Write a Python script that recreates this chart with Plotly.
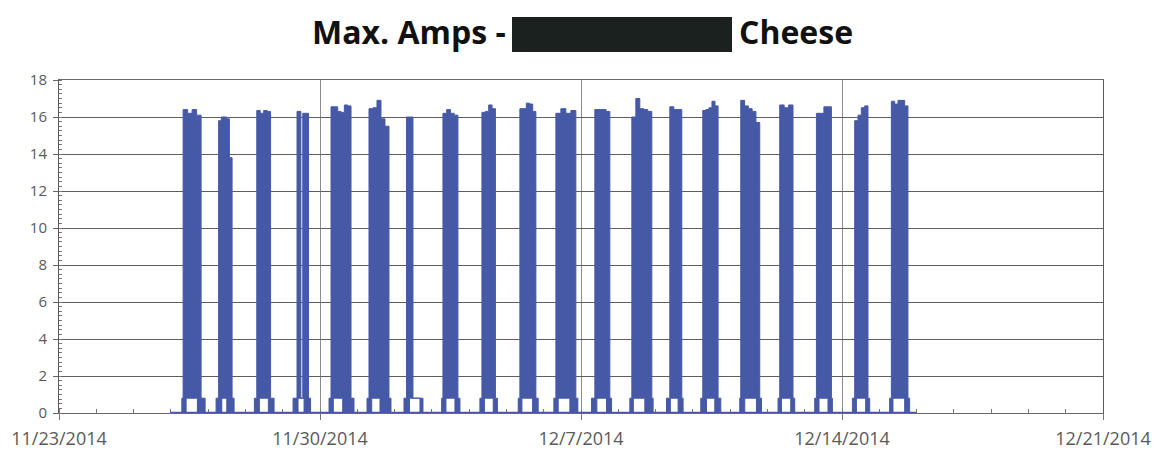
import pandas as pd
import plotly.graph_objects as go

# ---- data ----
run_days = ["2014-11-26", "2014-11-27", "2014-11-28", "2014-11-29", "2014-11-30",
            "2014-12-01", "2014-12-02", "2014-12-03", "2014-12-04", "2014-12-05",
            "2014-12-06", "2014-12-07", "2014-12-08", "2014-12-09", "2014-12-10",
            "2014-12-11", "2014-12-12", "2014-12-13", "2014-12-14", "2014-12-15"]
rise_time   = ["07:04", "05:07", "05:45", "06:39", "05:49", "06:15", "06:03", "06:18", "06:56", "07:35",
               "06:32", "06:47", "07:26", "07:02", "05:06", "06:11", "06:50", "06:26", "06:41", "06:41"]
run_start   = ["07:53", "06:44", "07:18", "09:13", "07:06", "07:32", "07:40", "07:08", "08:14", "08:40",
               "07:50", "08:55", "08:43", "09:10", "06:23", "06:50", "07:55", "07:32", "08:10", "07:46"]
notch_start = ["09:49", "08:47", "08:58", "09:52", "08:34", "09:17", "09:35", "09:04", "09:50", "09:58",
               "09:19", "10:12", "09:41", "09:29", "08:46", "09:24", "09:01", "09:12", "09:16", "08:48"]
notch_end   = ["17:05", "12:00", "14:46", "13:44", "14:37", "14:37", "16:21", "14:52", "15:30", "16:50",
               "16:50", "16:26", "17:05", "14:30", "14:07", "16:56", "15:00", "14:59", "15:14", "16:20"]
run_end     = ["19:28", "15:25", "16:11", "16:37", "19:58", "20:24", "11:51", "16:47", "16:55", "18:58",
               "20:41", "18:34", "21:35", "16:53", "16:14", "19:03", "16:28", "17:11", "16:43", "18:27"]
fall_time   = ["22:03", "16:42", "18:26", "17:55", "21:53", "21:41", "18:17", "18:05", "18:12", "20:26",
               "21:59", "19:40", "22:25", "17:43", "17:58", "20:09", "17:34", "17:49", "17:49", "19:32"]
peak_amps = [
    [16.4, 16.2, 16.4, 16.1],
    [15.8, 16.0, 16.0, 15.9, 13.8],
    [16.35, 16.2, 16.35, 16.3],
    [16.3, 16.3, 0.8, 16.2, 16.2, 16.2],
    [16.55, 16.55, 16.3, 16.25, 16.65, 16.6],
    [16.45, 16.5, 16.9, 15.9, 15.5],
    [16.0, 16.0],
    [16.2, 16.4, 16.2, 16.1],
    [16.25, 16.3, 16.65, 16.45],
    [16.45, 16.45, 16.75, 16.7, 16.3],
    [16.2, 16.45, 16.2, 16.35],
    [16.4, 16.4, 16.4, 16.3],
    [16.0, 17.0, 16.45, 16.4, 16.3],
    [16.55, 16.4, 16.4],
    [16.35, 16.4, 16.5, 16.85, 16.6],
    [16.9, 16.6, 16.45, 16.3, 15.7],
    [16.65, 16.5, 16.65],
    [16.2, 16.2, 16.55, 16.55],
    [15.8, 16.1, 16.5, 16.6],
    [16.85, 16.7, 16.9, 16.9, 16.6],
]
idle_amps = 0.8
series_start = "2014-11-26 00:00"
series_end = "2014-12-16 00:00"
x_ticks_start = "2014-11-23"
x_ticks_end = "2014-12-21"
y_ticks = [0, 2, 4, 6, 8, 10, 12, 14, 16, 18]

# ---- build block outlines ----
def iso(t):
    return t.strftime("%Y-%m-%d %H:%M:%S")

xs, ys = [], []
for i, d in enumerate(run_days):
    T = lambda hm: pd.Timestamp(f"{d} {hm}")
    r, bs, ns, ne, be, f = (T(v[i]) for v in (rise_time, run_start, notch_start,
                                               notch_end, run_end, fall_time))
    pk = peak_amps[i]
    n = len(pk)
    edges = [bs + (be - bs) * k / n for k in range(n + 1)]
    px = [r, r, bs]
    py = [0, idle_amps, idle_amps]
    for k, v in enumerate(pk):
        px += [edges[k], edges[k + 1]]
        py += [v, v]
    px += [be, f, f, ne, ne, ns, ns, r]
    py += [idle_amps, idle_amps, 0, 0, idle_amps, idle_amps, 0, 0]
    xs += [iso(t) for t in px] + [None]
    ys += py + [None]

blue = "#4659a7"
fig = go.Figure()
fig.add_trace(go.Scatter(x=[series_start, series_end], y=[0, 0], mode="lines",
                         line=dict(color=blue, width=2.5), showlegend=False, hoverinfo="skip"))
fig.add_trace(go.Scatter(x=xs, y=ys, mode="lines", fill="toself", fillcolor=blue,
                         line=dict(color=blue, width=1), showlegend=False, hoverinfo="skip"))

# the page body has an 8px margin, so the figure is shrunk by 8px
OFF = 8
W, H = 1160 - OFF, 453 - OFF
PL, PR, PT, PB = 59, 1103, 80, 413          # plot area in page pixels
ML, MT = PL - OFF, PT - OFF
MR, MB = 1160 - PR, 453 - PB
PW, PH = PR - PL, PB - PT

def px2x(p):
    return (p - PL) / PW

def py2y(p):
    return (PB - p) / PH

title_font = dict(family="Open Sans", size=32, color="#111111")
fig.add_annotation(x=px2x(508), y=py2y(32), xref="paper", yref="paper", text="<b>Max. Amps -</b>",
                   showarrow=False, xanchor="right", yanchor="middle", font=title_font)
fig.add_annotation(x=px2x(737), y=py2y(32), xref="paper", yref="paper", text="<b>Cheese</b>",
                   showarrow=False, xanchor="left", yanchor="middle", font=title_font)
fig.add_shape(type="rect", xref="paper", yref="paper",
              x0=px2x(512), x1=px2x(732), y0=py2y(52), y1=py2y(17),
              fillcolor="#1b211f", line=dict(width=0))

fig.update_layout(
    width=W, height=H,
    margin=dict(l=ML, r=MR, t=MT, b=MB, autoexpand=False),
    paper_bgcolor="white", plot_bgcolor="white",
    showlegend=False,
)
fig.update_xaxes(
    type="date", range=[x_ticks_start, x_ticks_end], automargin=False,
    tick0=x_ticks_start, dtick=7 * 86400000, tickformat="%-m/%-d/%Y",
    showgrid=True, gridcolor="#8c8c8c", gridwidth=1,
    ticks="outside", ticklen=6, tickcolor="#777777",
    showline=True, linecolor="#6a6a6a", linewidth=1, mirror=True,
    minor=dict(dtick=86400000, ticks="inside", ticklen=4, tickcolor="#777777", showgrid=False),
    tickfont=dict(family="Open Sans", size=18, color="#5a5a5a"),
    ticklabelstandoff=3, ticklabeloverflow="allow", layer="below traces",
)
fig.update_yaxes(
    range=[0, 18], tickvals=y_ticks, automargin=False,
    showgrid=True, gridcolor="#5e5e5e", gridwidth=1, zeroline=False,
    ticks="outside", ticklen=5, tickcolor="#666666",
    showline=True, linecolor="#5a5a5a", linewidth=1, mirror=True,
    minor=dict(dtick=0.25, ticks="inside", ticklen=3, tickcolor="#777777", showgrid=False),
    tickfont=dict(family="Open Sans", size=15, color="#5a5a5a"),
    ticklabelstandoff=3,
)

fig.write_html("out.html")
